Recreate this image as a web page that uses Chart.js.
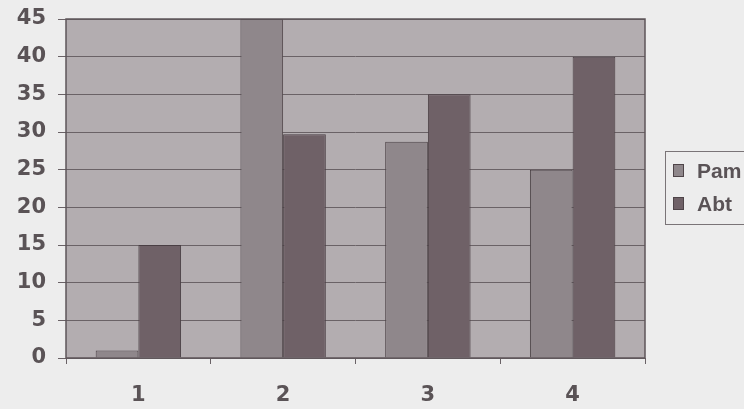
<!DOCTYPE html>
<html>
<head>
<meta charset="utf-8">
<script src="https://cdn.jsdelivr.net/npm/chart.js@4"></script>
<style>
  html, body { margin: 0; padding: 0; background: #ededed; overflow: hidden; }
  #wrap { position: relative; width: 744px; height: 409px; }
</style>
</head>
<body>
<div id="wrap"><canvas id="c" width="744" height="409"></canvas></div>
<script>
// Categories and series
const categories = ['1', '2', '3', '4'];
const pamValues = [1, 45, 28.7, 25];
const abtValues = [15, 29.7, 35, 40];
const seriesNames = ['Pam', 'Abt'];
const yTicks = [0, 5, 10, 15, 20, 25, 30, 35, 40, 45];

const textColor = '#5a5356';
const tickFont = { family: '"DejaVu Sans", sans-serif', size: 21, weight: 'bold' };
const legendFont = 'bold 21px "Liberation Sans", Arial, sans-serif';

// Plot background, plot border and the boxed legend
const decor = {
  id: 'decor',
  beforeDraw(chart) {
    const { ctx, chartArea: a } = chart;
    ctx.save();
    ctx.fillStyle = '#b3adb0';
    ctx.fillRect(a.left, a.top, a.right - a.left, a.bottom - a.top);
    ctx.restore();
  },
  afterDraw(chart) {
    const { ctx, chartArea: a } = chart;
    ctx.save();
    ctx.strokeStyle = '#5e5559';
    ctx.lineWidth = 1.5;
    ctx.strokeRect(a.left, a.top, a.right - a.left, a.bottom - a.top);

    const lx = 665.5, ly = 151.5, lw = 100, lh = 73;
    ctx.strokeStyle = '#7a7477';
    ctx.lineWidth = 1;
    ctx.strokeRect(lx, ly, lw, lh);
    ctx.font = legendFont;
    ctx.textBaseline = 'middle';
    chart.data.datasets.forEach((ds, i) => {
      const cy = 171 + i * 33;
      ctx.fillStyle = ds.backgroundColor;
      ctx.fillRect(673, cy - 7, 11, 13);
      ctx.strokeStyle = '#4e4448';
      ctx.strokeRect(673.5, cy - 6.5, 10, 12);
      ctx.fillStyle = textColor;
      ctx.fillText(ds.label, 697, cy + 1);
    });
    ctx.restore();
  }
};

new Chart(document.getElementById('c'), {
  type: 'bar',
  data: {
    labels: categories,
    datasets: [
      { label: seriesNames[0], data: pamValues, backgroundColor: '#8f878b', borderColor: '#4e4448', borderWidth: 1 },
      { label: seriesNames[1], data: abtValues, backgroundColor: '#6f6167', borderColor: '#4a3f44', borderWidth: 1 }
    ]
  },
  options: {
    responsive: false,
    animation: false,
    devicePixelRatio: 1,
    layout: { padding: { left: 0, right: 99, top: 19, bottom: 0 } },
    categoryPercentage: 0.59,
    barPercentage: 1,
    plugins: { legend: { display: false }, tooltip: { enabled: false } },
    scales: {
      x: {
        grid: { display: true, drawOnChartArea: false, tickLength: 6, color: '#6a6266', offset: true },
        border: { display: false },
        ticks: { color: textColor, font: tickFont, padding: 19 },
        afterFit(s) { s.height = 51; s.paddingLeft = 0; s.paddingRight = 0; }
      },
      y: {
        min: 0, max: 45,
        afterBuildTicks(s) { s.ticks = yTicks.map(v => ({ value: v })); },
        grid: { color: '#6a6266', lineWidth: 1, tickLength: 8 },
        border: { display: false },
        ticks: { color: textColor, font: tickFont, padding: 12 },
        afterFit(s) { s.width = 66; s.paddingTop = 0; s.paddingBottom = 0; }
      }
    }
  },
  plugins: [decor]
});
</script>
</body>
</html>
